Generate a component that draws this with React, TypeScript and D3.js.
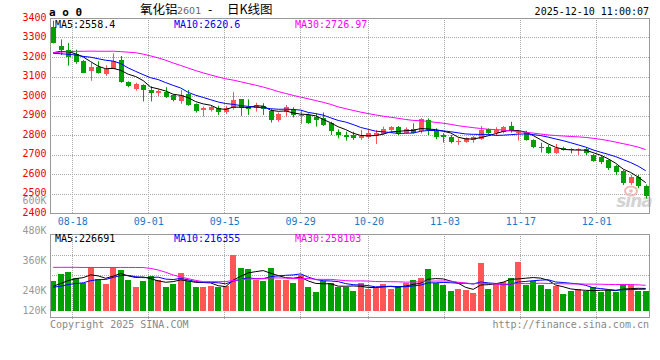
import React from "react";
import * as d3 from "d3";

// ---------- data ----------
const dates = [
  "08-13","08-14","08-15","08-18","08-19","08-20","08-21","08-22","08-25","08-26","08-27","08-28","08-29",
  "09-01","09-02","09-03","09-04","09-05","09-08","09-09","09-10","09-11","09-12","09-15","09-16","09-17","09-18","09-19",
  "09-22","09-23","09-24","09-25","09-26","09-29","09-30",
  "10-09","10-10","10-13","10-14","10-15","10-16","10-17","10-20","10-21","10-22","10-23","10-24","10-27","10-28","10-29","10-30","10-31",
  "11-03","11-04","11-05","11-06","11-07","11-10","11-11","11-12","11-13","11-14","11-17","11-18","11-19","11-20","11-21","11-24","11-25","11-26","11-27","11-28",
  "12-01","12-02","12-03","12-04","12-05","12-08","12-09","12-10",
];

const open = [
  3355,3258,3238,3215,3182,3130,3148,3115,3140,3185,3073,3036,3056,3033,3015,3022,3004,2972,3008,2958,
  2926,2926,2940,2920,2938,2983,2945,2938,2950,2925,2875,2916,2932,2895,2903,2894,2886,2860,2817,2800,
  2800,2784,2792,2796,2806,2826,2840,2812,2829,2818,2878,2822,2800,2792,2762,2766,2772,2779,2829,2809,
  2817,2846,2815,2817,2775,2740,2740,2710,2732,2727,2721,2727,2697,2686,2672,2641,2617,2555,2583,2540,
];
const high = [
  3386,3290,3272,3238,3184,3170,3178,3158,3219,3205,3075,3068,3060,3050,3035,3045,3008,3030,3030,2962,
  2946,2950,2950,2950,3020,2985,2983,2966,2963,2932,2915,2954,2942,2928,2911,2911,2915,2868,2829,2817,
  2817,2826,2826,2826,2843,2846,2846,2839,2860,2886,2885,2834,2809,2800,2783,2788,2795,2846,2834,2840,
  2846,2868,2826,2822,2778,2760,2749,2754,2740,2732,2732,2737,2703,2692,2675,2646,2620,2595,2595,2546,
];
const low = [
  3270,3210,3156,3165,3117,3078,3115,3103,3138,3068,3045,3027,2972,2972,2999,2990,2972,2960,2950,2915,
  2895,2920,2903,2908,2930,2898,2903,2920,2903,2864,2868,2894,2890,2858,2857,2843,2846,2800,2783,2771,
  2775,2775,2783,2754,2800,2817,2800,2808,2808,2808,2800,2778,2761,2757,2749,2760,2760,2775,2805,2800,
  2809,2812,2771,2771,2732,2710,2703,2703,2720,2706,2697,2697,2663,2651,2621,2595,2544,2544,2527,2474,
];
const close = [
  3273,3236,3202,3172,3120,3150,3120,3137,3182,3070,3050,3060,3032,3015,3026,2995,2977,3004,2955,2925,
  2937,2942,2916,2937,2982,2937,2933,2956,2933,2875,2910,2944,2903,2903,2864,2877,2852,2818,2800,2792,
  2783,2795,2808,2808,2829,2840,2806,2829,2812,2880,2826,2792,2788,2766,2771,2783,2788,2826,2812,2826,
  2839,2818,2817,2775,2737,2731,2710,2732,2724,2721,2727,2706,2669,2659,2630,2612,2555,2583,2540,2488,
];
const volume = [
  298000,372000,396000,332000,280000,440000,320000,272000,443000,416000,315000,240000,298000,355000,308000,243000,274000,386000,298000,237000,
  237000,254000,243000,251000,568000,434000,423000,308000,304000,434000,315000,315000,281000,359000,240000,190000,298000,281000,237000,237000,
  203000,281000,224000,230000,271000,224000,248000,281000,311000,332000,426000,281000,263000,203000,224000,213000,180000,484000,220000,271000,
  292000,332000,497000,258000,304000,263000,224000,254000,169000,196000,220000,196000,237000,187000,210000,190000,271000,263000,203000,203000,
];

// closes / volumes of the 29 sessions before the window (estimated from the MA lines)
const priorCloses = [
  3150,3130,3120,3110,3125,3140,3150,3160,3140,3135,3140,
  3250,3290,3330,3360,3400,3380,3350,3320,3291,
  3260,3230,3210,3190,3190,3200,3215,3222,3200,
];
const priorVolumes = [
  360000,390000,340000,320000,430000,330000,280000,430000,410000,320000,250000,316000,
  620000,780000,950000,1100000,980000,820000,760000,634000,
  260000,240000,220000,210000,210000,230000,250000,232000,230000,
];

const priceTicks = [3400, 3300, 3200, 3100, 3000, 2900, 2800, 2700, 2600, 2500, 2400];
const volTicks = [600000, 480000, 360000, 240000, 120000];
const xTickDates = ["08-18", "09-01", "09-15", "09-29", "10-20", "11-03", "11-17", "12-01"];
const maPeriods = [5, 10, 30];
const priceMaText = ["MA5:2558.4", "MA10:2620.6", "MA30:2726.97"];
const volMaText = ["MA5:226691", "MA10:216355", "MA30:258103"];
const titleName = "氧化铝";
const titleCode = "2601";
const titleSuffix = "日K线图";
const headerMarks = "a o 0";
const timestamp = "2025-12-10 11:00:07";
const copyright = "Copyright 2025 SINA.COM";
const siteUrl = "http://finance.sina.com.cn";

// ---------- styles ----------
const W = 660, H = 360;
const MONO = "'DejaVu Sans Mono', monospace";
const CJK = "'Noto Sans CJK SC', sans-serif";
const RED = "#ff5555";
const GREEN = "#00a000";
const MA_COLORS = ["#000000", "#0000ff", "#ff00ff"];
const GRID = "#aaaaaa";
const FRAME = "#999999";

const PL = 50, PR = 650;
const MAIN_TOP = 18, MAIN_BOT = 213;
const VOL_TOP = 234, VOL_BOT = 317, VOL_BASE = 310.7;

function movingAvg(series: number[], prior: number[], n: number) {
  const full = [...prior, ...series];
  return series.map((_, i) => {
    const end = prior.length + i + 1;
    return d3.mean(full.slice(end - n, end)) as number;
  });
}

export default function App() {
  const n = close.length;
  const xc = d3.scaleLinear().domain([0, n - 1]).range([53.2, 645.7]);
  const xg = d3.scaleLinear().domain([0, n - 1]).range([PL, PR]);
  const y = d3.scaleLinear().domain([2400, 3400]).range([MAIN_BOT, MAIN_TOP]);
  const yv = d3.scaleLinear().domain([0, 780000]).range([VOL_BASE, VOL_BASE - 76.8]);
  const yvLabel = d3.scaleLinear().domain([0, 600000]).range([350.7, 200.7]);

  const priceMA = maPeriods.map((p) => movingAvg(close, priorCloses, p));
  const volMA = maPeriods.map((p) => movingAvg(volume, priorVolumes, p));

  const linePrice = d3.line<number>().x((_, i) => xc(i)).y((d) => y(d));
  const lineVol = d3.line<number>().x((_, i) => xc(i)).y((d) => yv(d));

  const tickIdx = xTickDates.map((d) => dates.indexOf(d));
  const gx = (i: number) => Math.floor(xg(i)) + 0.5;
  const crisp = (v: number) => Math.round(v) + 0.5;

  const volGrid = [255, 275, 295];
  const maX = [55, 174, 295];

  return (
    <svg width={W} height={H} style={{ position: "absolute", left: 0, top: 0, background: "#fff" }}>
      <rect x={0} y={0} width={W} height={H} fill="#ffffff" />

      {/* header */}
      <text x={49} y={15.5} fontFamily={MONO} fontWeight="bold" fontSize={11} fill="#000">{headerMarks}</text>
      <text x={140} y={14} fontFamily={CJK} fontSize={12.5} fill="#000">{titleName}</text>
      <text x={177} y={14} fontFamily="'DejaVu Sans', sans-serif" fontSize={9.5} fill="#666">{titleCode}</text>
      <text x={208} y={14} fontFamily={CJK} fontSize={12.5} fill="#000">-</text>
      <text x={227} y={14} fontFamily={CJK} fontSize={12.5} fill="#000">{titleSuffix}</text>
      <text x={649} y={15} textAnchor="end" fontFamily={MONO} fontSize={10} fill="#000">{timestamp}</text>

      {/* main grid */}
      {priceTicks.slice(1, -1).map((t) => (
        <line key={"hg" + t} x1={PL} x2={PR} y1={crisp(y(t))} y2={crisp(y(t))} stroke={GRID} strokeDasharray="1 1" />
      ))}
      {tickIdx.map((i) => (
        <line key={"vg" + i} x1={gx(i)} x2={gx(i)} y1={MAIN_TOP} y2={MAIN_BOT} stroke={GRID} strokeDasharray="1 1" />
      ))}
      {/* volume grid */}
      {volGrid.map((g) => (
        <line key={"vhg" + g} x1={PL} x2={PR} y1={g + 0.5} y2={g + 0.5} stroke={GRID} strokeDasharray="1 1" />
      ))}
      {tickIdx.map((i) => (
        <line key={"vvg" + i} x1={gx(i)} x2={gx(i)} y1={VOL_TOP} y2={VOL_BOT + 3} stroke={GRID} strokeDasharray="1 1" />
      ))}

      {/* sina watermark */}
      <g opacity={0.9}>
        <ellipse cx={631} cy={191} rx={6} ry={4.5} fill="none" stroke="#f3b0b0" strokeWidth={2} />
        <circle cx={631} cy={191} r={1.8} fill="#f3b0b0" />
        <text x={634} y={207} textAnchor="middle" fontFamily="'DejaVu Sans', sans-serif" fontStyle="italic" fontWeight="bold" fontSize={17} fill="#cfcfcf" letterSpacing={-1}>sina</text>
      </g>

      {/* candles */}
      {close.map((c, i) => {
        const o = open[i];
        const col = c > o ? RED : c < o ? GREEN : RED;
        const cx = Math.round(xc(i));
        const top = Math.round(y(Math.max(o, c)));
        const bot = Math.round(y(Math.min(o, c)));
        return (
          <g key={"c" + i}>
            <line x1={cx + 0.5} x2={cx + 0.5} y1={y(high[i])} y2={y(low[i])} stroke={col} strokeWidth={1} />
            <rect x={cx - 2} y={top} width={5} height={Math.max(1, bot - top)} fill={col} />
          </g>
        );
      })}

      {/* price MAs */}
      {priceMA.map((m, k) => (
        <path key={"pm" + k} d={linePrice(m) || ""} fill="none" stroke={MA_COLORS[k]} strokeWidth={1} />
      ))}

      {/* volume bars */}
      {volume.map((v, i) => {
        const col = close[i] > open[i] ? RED : close[i] < open[i] ? GREEN : RED;
        const cx = Math.round(xc(i));
        const top = Math.round(yv(v));
        return <rect key={"v" + i} x={cx - 3} y={top} width={6} height={Math.round(VOL_BASE) - top} fill={col} />;
      })}
      {volMA.map((m, k) => (
        <path key={"vm" + k} d={lineVol(m) || ""} fill="none" stroke={MA_COLORS[k]} strokeWidth={1} />
      ))}

      {/* frames */}
      <rect x={PL + 0.5} y={MAIN_TOP + 0.5} width={PR - PL - 1} height={MAIN_BOT - MAIN_TOP} fill="none" stroke={FRAME} />
      <rect x={PL + 0.5} y={VOL_TOP + 0.5} width={PR - PL - 1} height={VOL_BOT - VOL_TOP} fill="none" stroke={FRAME} />

      {/* MA labels */}
      {priceMaText.map((t, k) => (
        <text key={"pt" + k} x={maX[k]} y={27.5} fontFamily={MONO} fontSize={10} fill={MA_COLORS[k]}>{t}</text>
      ))}
      {volMaText.map((t, k) => (
        <text key={"vt" + k} x={maX[k]} y={241.8} fontFamily={MONO} fontSize={10} fill={MA_COLORS[k]}>{t}</text>
      ))}

      {/* price axis labels */}
      {priceTicks.map((t) => (
        <text key={"pl" + t} x={46.5} y={y(t) - 1} dy="0.35em" textAnchor="end" fontFamily={MONO} fontSize={10} fill="#ee0000">{t}</text>
      ))}
      {/* volume axis labels */}
      {volTicks.map((v) => (
        <text key={"vl" + v} x={46.5} y={Math.min(yvLabel(v), 310)} dy="0.35em" textAnchor="end" fontFamily={MONO} fontSize={10} fill="#999999">{v / 1000 + "K"}</text>
      ))}
      {/* date labels */}
      {tickIdx.map((i, k) => (
        <text key={"xl" + k} x={xg(i)} y={221.5} dy="0.35em" textAnchor="middle" fontFamily={MONO} fontSize={10} fill="#1a7ac8">{xTickDates[k]}</text>
      ))}

      {/* footer */}
      <text x={50} y={324} dy="0.35em" fontFamily={MONO} fontSize={10} fill="#888">{copyright}</text>
      <text x={649} y={324.5} dy="0.35em" textAnchor="end" fontFamily={MONO} fontSize={10} fill="#888">{siteUrl}</text>
    </svg>
  );
}
